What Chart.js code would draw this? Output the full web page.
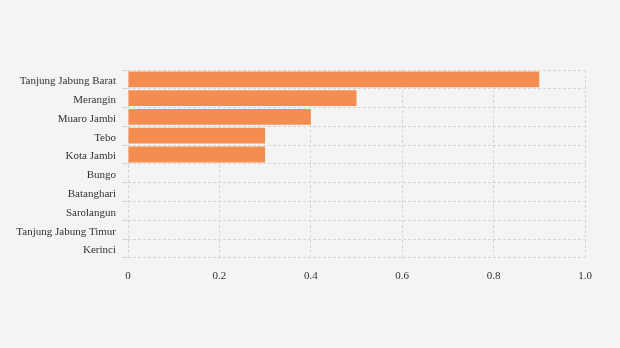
<html>
<head>
<title></title>
<style>
  body { margin: 0; background: #f4f4f4; }
  .container { width: 620px; height: 348px; }
</style>
</head>
<body>
<div class="container">
  <canvas id="myChart" width="620" height="348"></canvas>
</div>
<script src="https://cdn.jsdelivr.net/npm/chart.js@4"></script>
<script>
var regions = ["Tanjung Jabung Barat", "Merangin", "Muaro Jambi", "Tebo", "Kota Jambi", "Bungo", "Batanghari", "Sarolangun", "Tanjung Jabung Timur", "Kerinci"];
var values = [0.9, 0.5, 0.4, 0.3, 0.3, 0, 0, 0, 0, 0];
var xTicks = ["0", "0.2", "0.4", "0.6", "0.8", "1.0"];

Chart.defaults.font.family = "'Liberation Serif', 'Times New Roman', serif";
Chart.defaults.font.size = 11;
Chart.defaults.color = '#333';

var ctx = document.getElementById('myChart').getContext('2d');
var chart = new Chart(ctx, {
  type: 'bar',
  data: {
    labels: regions,
    datasets: [{
      data: values,
      backgroundColor: 'rgb(245, 141, 80)',
      borderWidth: 0,
      categoryPercentage: 0.84,
      barPercentage: 1
    }]
  },
  options: {
    indexAxis: 'y',
    responsive: false,
    animation: false,
    layout: { padding: { top: 70, right: 35, bottom: 53, left: 10 } },
    plugins: { legend: { display: false }, tooltip: { enabled: false } },
    scales: {
      x: {
        min: 0,
        max: 1,
        border: { display: false, dash: [3, 2] },
        grid: { color: '#d6d6d6', drawTicks: false },
        ticks: {
          stepSize: 0.2,
          padding: 12,
          callback: function (v, i) { return xTicks[i]; }
        }
      },
      y: {
        border: { display: false, dash: [3, 2] },
        grid: { color: '#d6d6d6', tickLength: 6, offset: true },
        ticks: { padding: 6, labelOffset: 2 },
        afterFit: function (s) { s.width = 118; }
      }
    }
  }
});
</script>
</body>
</html>
